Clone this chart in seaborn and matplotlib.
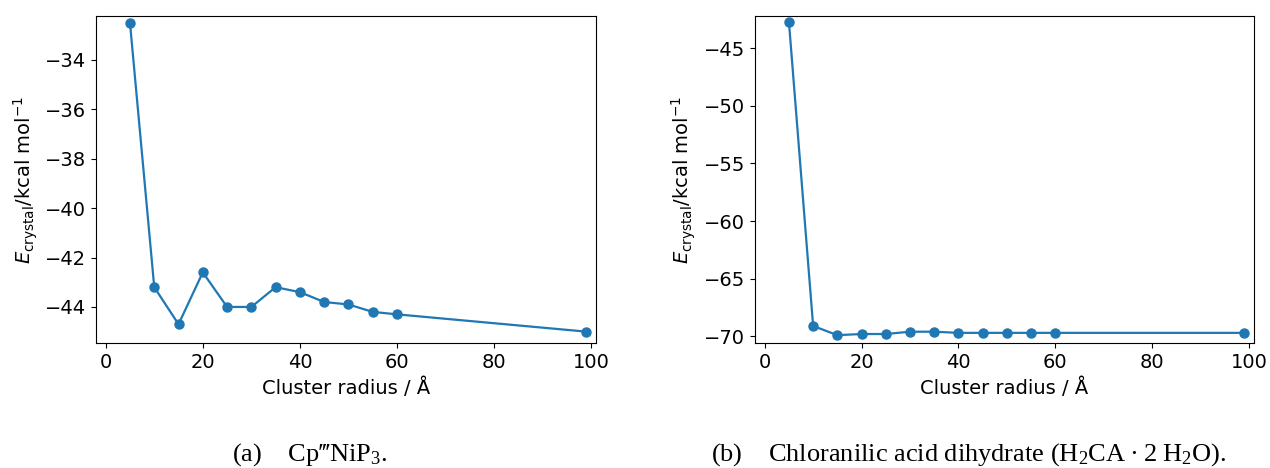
import matplotlib
matplotlib.use("Agg")
import matplotlib.pyplot as plt
import seaborn as sns
import pandas as pd

radius = [5, 10, 15, 20, 25, 30, 35, 40, 45, 50, 55, 60, 99]
e_a = [-32.5, -43.2, -44.7, -42.6, -44.0, -44.0, -43.2, -43.4, -43.8, -43.9, -44.2, -44.3, -45.0]
e_b = [-42.7, -69.1, -69.9, -69.8, -69.8, -69.6, -69.6, -69.7, -69.7, -69.7, -69.7, -69.7, -69.7]
yticks_a = [-34, -36, -38, -40, -42, -44]
yticks_b = [-45, -50, -55, -60, -65, -70]
xticks = [0, 20, 40, 60, 80, 100]
caption_a = "(a)    Cp\u2034NiP$_3$."
caption_b = "(b)    Chloranilic acid dihydrate (H$_2$CA\u2009\u00b7\u20092\u2009H$_2$O)."

plt.rcParams["mathtext.rm"] = "Liberation Serif"
plt.rcParams["mathtext.it"] = "Liberation Serif:italic"
plt.rcParams["mathtext.bf"] = "Liberation Serif:bold"

W, H = 1270, 468
fig = plt.figure(figsize=(W / 100, H / 100), dpi=100)
ax_a = fig.add_axes([96 / W, (H - 343) / H, 500 / W, 327 / H])
ax_b = fig.add_axes([755 / W, (H - 343) / H, 499 / W, 327 / H])

color = "#1f77b4"
for ax, vals, yt, ylim in [(ax_a, e_a, yticks_a, (-45.46, -32.22)),
                           (ax_b, e_b, yticks_b, (-70.58, -42.2))]:
    df = pd.DataFrame({"r": radius, "e": vals})
    sns.lineplot(data=df, x="r", y="e", ax=ax, color=color, marker="o",
                 markersize=6.5, markeredgecolor=color, markeredgewidth=1,
                 linewidth=1.6)
    ax.set_xlim(-2, 101)
    ax.set_ylim(*ylim)
    ax.set_xticks(xticks)
    ax.set_yticks(yt)
    ax.tick_params(labelsize=14)
    ax.set_xlabel("Cluster radius / \u00c5", fontsize=14)
    ax.set_ylabel(r"$E_\mathrm{crystal}$/kcal mol$^{-1}$", fontsize=14)

serif = ["Liberation Serif", "DejaVu Serif"]
fig.text(310 / W, 1 - 455 / H, caption_a, ha="center", va="center",
         fontsize=19, family=serif, math_fontfamily="custom")
fig.text(969 / W, 1 - 455 / H, caption_b, ha="center", va="center",
         fontsize=19, family=serif, math_fontfamily="custom")

fig.savefig("out.png", dpi=100)
